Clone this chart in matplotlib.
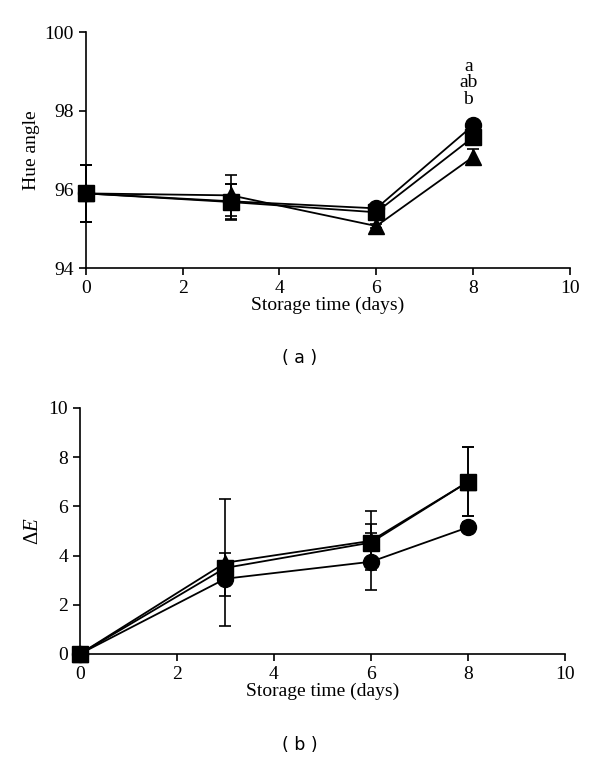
import numpy as np
import matplotlib
matplotlib.use("Agg")
import matplotlib.pyplot as plt

plt.rcParams['font.family'] = ['Liberation Serif', 'DejaVu Serif']
plt.rcParams['mathtext.fontset'] = 'custom'
plt.rcParams['mathtext.it'] = 'Liberation Serif:italic'
plt.rcParams['mathtext.rm'] = 'Liberation Serif'

days = [0, 3, 6, 8]

# Hue angle (panel a)
hue_circle = [95.9, 95.7, 95.52, 97.63]
hue_square = [95.9, 95.68, 95.42, 97.33]
hue_triangle = [95.9, 95.85, 95.07, 96.83]
hue_circle_err = [0.73, 0.45, 0.05, 0.05]
hue_square_err = [0.73, 0.45, 0.05, 0.05]
hue_triangle_err = [0.73, 0.52, 0.05, 0.2]
hue_letters = ["a", "ab", "b"]

# Delta E (panel b)
de_circle = [0.0, 3.06, 3.75, 5.15]
de_square = [0.0, 3.5, 4.53, 7.0]
de_triangle = [0.0, 3.71, 4.6, 7.0]
de_circle_err = [0.0, 0.7, 1.15, 0.2]
de_square_err = [0.0, 0.6, 0.75, 1.4]
de_triangle_err = [0.0, 2.57, 1.2, 1.4]

fs = 14

fig = plt.figure(figsize=(6, 7.64), dpi=100)
ax1 = fig.add_axes([0.143, 0.649, 0.807, 0.309])
ax2 = fig.add_axes([0.133, 0.144, 0.809, 0.322])

def style(ax):
    for s in ['top', 'right']:
        ax.spines[s].set_visible(False)
    for s in ['left', 'bottom']:
        ax.spines[s].set_linewidth(1.2)
    ax.tick_params(direction='out', length=5, width=1.2, labelsize=fs)
    ax.set_xlim(0, 10)
    ax.set_xticks([0, 2, 4, 6, 8, 10])
    ax.set_xlabel("Storage time (days)", fontsize=fs, labelpad=0)

def draw(ax, series):
    for y, err, m, ms in series:
        ax.errorbar(days, y, yerr=err, color='black', marker=m, markersize=ms,
                    linewidth=1.3, elinewidth=1.2, capsize=4, capthick=1.2,
                    clip_on=False, zorder=3)

draw(ax1, [(hue_triangle, hue_triangle_err, '^', 12),
           (hue_circle, hue_circle_err, 'o', 11.5),
           (hue_square, hue_square_err, 's', 11)])
style(ax1)
ax1.set_ylim(94, 100)
ax1.set_yticks([94, 96, 98, 100])
ax1.set_ylabel("Hue angle", fontsize=fs, labelpad=3)
for i, t in enumerate(hue_letters):
    ax1.text(7.9, 99.13 - i * 0.42, t, ha='center', va='center', fontsize=14)

draw(ax2, [(de_triangle, de_triangle_err, '^', 12),
           (de_circle, de_circle_err, 'o', 11.5),
           (de_square, de_square_err, 's', 11)])
style(ax2)
ax2.set_ylim(0, 10)
ax2.set_yticks([0, 2, 4, 6, 8, 10])
ax2.set_ylabel(r"$\Delta\mathit{E}$", fontsize=fs + 1, labelpad=4)

fig.text(0.5, 0.531, "( a )", ha='center', va='center', fontsize=12.5,
         family='DejaVu Sans')
fig.text(0.5, 0.025, "( b )", ha='center', va='center', fontsize=12.5,
         family='DejaVu Sans')

fig.savefig("out.png", dpi=100)
